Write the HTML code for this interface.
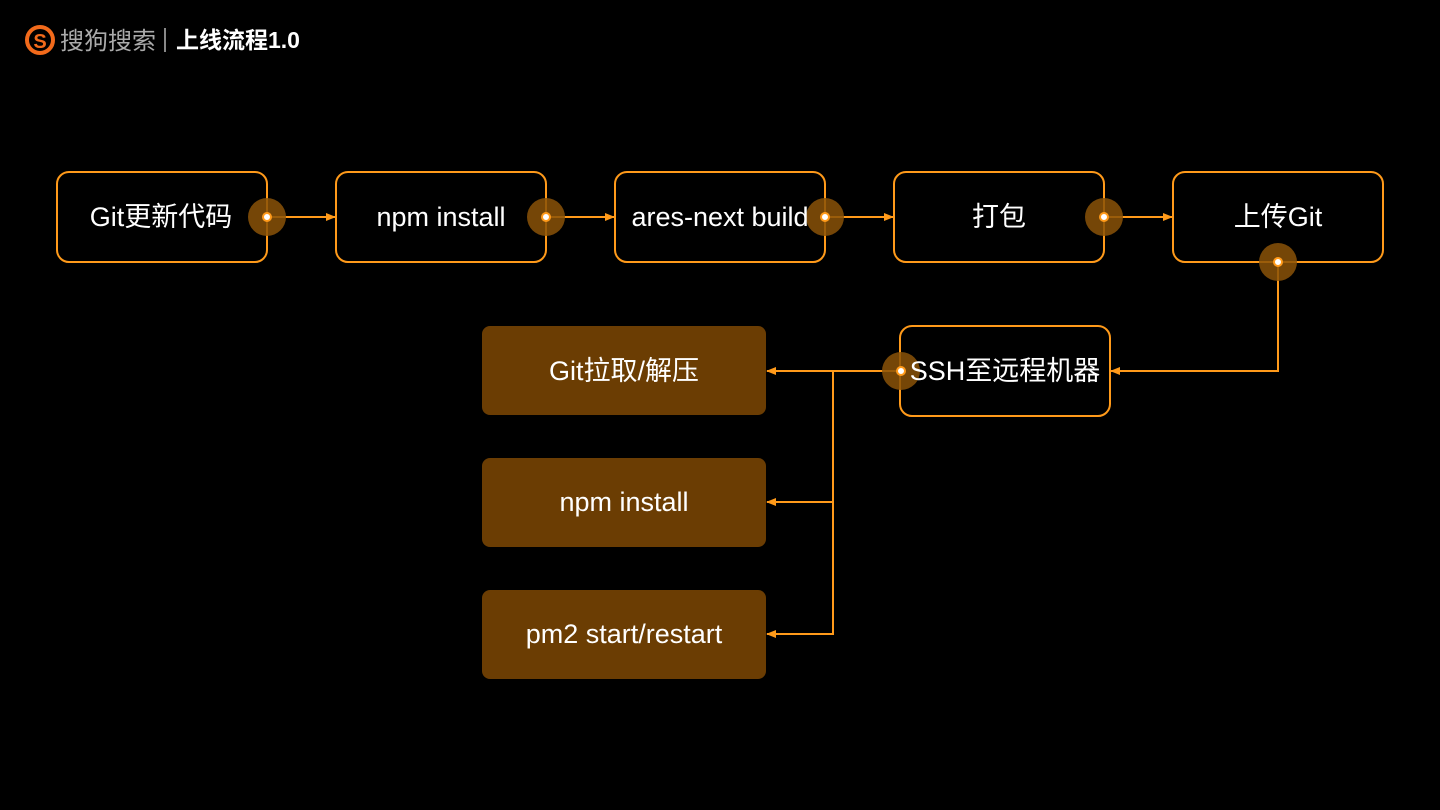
<!DOCTYPE html>
<html><head><meta charset="utf-8"><style>
body{margin:0;background:#000;width:1440px;height:810px;overflow:hidden;font-family:"Liberation Sans","Noto Sans CJK SC",sans-serif}
</style></head><body>
<svg width="1440" height="810" xmlns="http://www.w3.org/2000/svg" style="position:absolute;left:0;top:0">
<defs><marker id="a" markerWidth="10" markerHeight="8" refX="9" refY="4" orient="auto" markerUnits="userSpaceOnUse"><path d="M0,0L10,4L0,8z" fill="#ff9a1a"/></marker></defs>
<g font-family="Liberation Sans, Noto Sans CJK SC, sans-serif">
<circle cx="40" cy="40" r="13" fill="none" stroke="#f26a1b" stroke-width="4"/>
<text x="40" y="48" fill="#f26a1b" font-size="20" font-weight="bold" text-anchor="middle">S</text>
<text x="60" y="49" fill="#aaa" font-size="24">搜狗搜索</text>
<rect x="164" y="28" width="2" height="24" fill="#888"/>
<text x="176" y="48" fill="#fff" font-size="23" font-weight="bold">上线流程1.0</text>
</g>
<g fill="none" stroke="#ff9a1a" stroke-width="2">
<rect x="57" y="172" width="210" height="90" rx="12"/>
<rect x="336" y="172" width="210" height="90" rx="12"/>
<rect x="615" y="172" width="210" height="90" rx="12"/>
<rect x="894" y="172" width="210" height="90" rx="12"/>
<rect x="1173" y="172" width="210" height="90" rx="12"/>
<rect x="900" y="326" width="210" height="90" rx="12"/>
<line x1="267" y1="217" x2="335" y2="217" marker-end="url(#a)"/>
<line x1="546" y1="217" x2="614" y2="217" marker-end="url(#a)"/>
<line x1="825" y1="217" x2="893" y2="217" marker-end="url(#a)"/>
<line x1="1104" y1="217" x2="1172" y2="217" marker-end="url(#a)"/>
<polyline points="1278,262 1278,371 1111,371" marker-end="url(#a)"/>
<line x1="901" y1="371" x2="767" y2="371" marker-end="url(#a)"/>
<polyline points="833,371 833,634 767,634" marker-end="url(#a)"/>
<line x1="833" y1="502" x2="767" y2="502" marker-end="url(#a)"/>
</g>
<g fill="#6b3d03">
<rect x="482" y="326" width="284" height="89" rx="8"/>
<rect x="482" y="458" width="284" height="89" rx="8"/>
<rect x="482" y="590" width="284" height="89" rx="8"/>
</g>
<g fill="#8a5208" fill-opacity="0.85">
<circle cx="267" cy="217" r="19"/><circle cx="546" cy="217" r="19"/><circle cx="825" cy="217" r="19"/><circle cx="1104" cy="217" r="19"/><circle cx="1278" cy="262" r="19"/><circle cx="901" cy="371" r="19"/>
</g>
<g fill="#fff" stroke="#ff9a1a" stroke-width="2">
<circle cx="267" cy="217" r="4"/><circle cx="546" cy="217" r="4"/><circle cx="825" cy="217" r="4"/><circle cx="1104" cy="217" r="4"/><circle cx="1278" cy="262" r="4"/><circle cx="901" cy="371" r="4"/>
</g>
<g fill="#fff" font-size="27" text-anchor="middle" font-family="Liberation Sans, Noto Sans CJK SC, sans-serif">
<text x="161" y="226">Git更新代码</text>
<text x="441" y="226">npm install</text>
<text x="720" y="226">ares-next build</text>
<text x="999" y="226">打包</text>
<text x="1278" y="226">上传Git</text>
<text x="1005" y="380">SSH至远程机器</text>
<text x="624" y="380">Git拉取/解压</text>
<text x="624" y="511">npm install</text>
<text x="624" y="643">pm2 start/restart</text>
</g>
</svg>
</body></html>
